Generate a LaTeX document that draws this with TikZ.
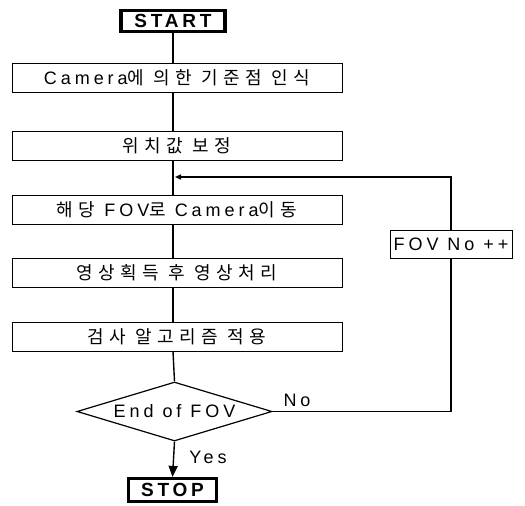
\documentclass[tikz,border=0pt]{standalone}
\usepackage{fontspec}
\setmainfont{Liberation Sans}
\newfontfamily\lat{Liberation Sans}[LetterSpace=22]
\newfontfamily\latb{Liberation Sans}[LetterSpace=20,BoldFont={Liberation Sans Bold}]
\newfontfamily\kr{Noto Sans CJK KR}[LetterSpace=30]
\newcommand\hgl[1]{{\fontsize{18}{20}\selectfont\kr #1}}
\usetikzlibrary{shapes.geometric,arrows.meta}
\begin{document}
\begin{tikzpicture}[x=1pt,y=-1pt,
  box/.style={draw, line width=1pt, minimum width=330pt, minimum height=29pt, inner sep=0pt,
    font=\fontsize{18}{20}\selectfont\lat},
  term/.style={draw, line width=3.2pt, inner sep=0pt, font=\fontsize{19}{20}\selectfont\latb\bfseries},
  decision/.style={draw, diamond, line width=1.2pt, minimum width=195pt, minimum height=59pt, aspect=3.3,
    inner sep=0pt, font=\fontsize{18}{20}\selectfont\lat},
  lbl/.style={font=\fontsize{18}{20}\selectfont\lat, inner sep=0pt},
  hg/.style={font=\fontsize{18}{20}\selectfont\kr},
  conn/.style={line width=1.4pt},
  tip/.style={-{Triangle[length=11pt,width=9pt]}},
  smalltip/.style={-{Triangle[length=6pt,width=5pt]}}]
\useasboundingbox (0,0) rectangle (525,506);
\node[term, minimum width=104pt, minimum height=21pt] (start) at (173,21) {START};
\node[box] (b1) at (177,78) {Camera\hgl{에 의한 기준점 인식}};
\node[box, hg] (b2) at (177,146) {위치값 보정};
\node[box] (b3) at (177,210) {\hgl{해당} FOV\hgl{로} Camera\hgl{이동}};
\node[box, hg] (b4) at (177,272.5) {영상획득 후 영상처리};
\node[box, hg] (b5) at (177,336.5) {검사 알고리즘 적용};
\node[decision] (dec) at (174.5,411.5) {End of FOV};
\node[box, minimum width=122pt, minimum height=28pt] (fov) at (451,244) {FOV No ++};
\node[term, minimum width=88pt, minimum height=23pt] (stop) at (172.5,490) {STOP};
\node[lbl] (no) at (297,400) {No};
\node[lbl] (yes) at (208,457) {Yes};
\coordinate (j) at (175,177);
\draw[conn] (start.south) -- (start.south |- b1.north);
\draw[conn] (start.south |- b1.south) -- (start.south |- b2.north);
\draw[conn] (start.south |- b2.south) -- (start.south |- b3.north);
\draw[conn] (start.south |- b3.south) -- (start.south |- b4.north);
\draw[conn] (start.south |- b4.south) -- (start.south |- b5.north);
\draw[conn] (start.south |- b5.south) -- (dec.north);
\draw[conn, smalltip] (fov.north) |- (j);
\draw[conn] (dec.east) -| (fov.south);
\draw[conn, tip] (dec.south) -- (stop.north);
\end{tikzpicture}
\end{document}
